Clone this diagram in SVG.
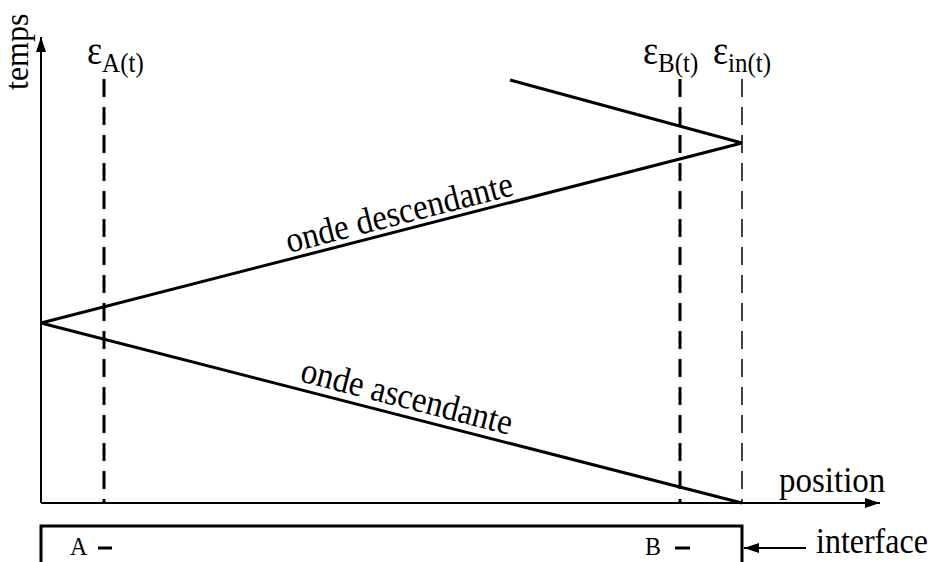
<svg xmlns="http://www.w3.org/2000/svg" width="936" height="562" viewBox="0 0 936 562">
<style>
text{font-family:"Liberation Serif","Times New Roman",serif;fill:#000}
.lbl{font-size:33px}
.eps{font-size:36px}
.sub{font-size:25px}
.ln{stroke:#000;fill:none}
</style>
<defs>
<marker id="ah" viewBox="0 0 15 10" refX="15" refY="5" markerWidth="15" markerHeight="10" markerUnits="userSpaceOnUse" orient="auto"><path d="M0,0L15,5L0,10z" fill="#000"/></marker>
</defs>
<rect width="936" height="562" fill="#fff"/>
<g id="axes">
<line class="ln" x1="41" y1="503" x2="41" y2="37" stroke-width="2" marker-end="url(#ah)"/>
<line class="ln" x1="41" y1="503" x2="880" y2="503" stroke-width="2" marker-end="url(#ah)"/>
<text font-size="32" transform="translate(28,90) rotate(-90) scale(1,1.05)">temps</text>
<text class="lbl" transform="translate(779,492) scale(1,1.1)">position</text>
</g>
<g id="dashed">
<line class="ln" x1="104" y1="79" x2="104" y2="503" stroke-width="3" stroke-dasharray="18,10"/>
<line class="ln" x1="680" y1="79" x2="680" y2="503" stroke-width="3" stroke-dasharray="18,10"/>
<line class="ln" x1="742" y1="79" x2="742" y2="503" stroke-width="1.5" stroke-dasharray="18,10"/>
</g>
<g id="labels">
<text transform="translate(87,64) scale(1,1.1)"><tspan class="eps">ε</tspan><tspan class="sub" dy="7">A(t)</tspan></text>
<text transform="translate(643,64) scale(1,1.1)"><tspan class="eps">ε</tspan><tspan class="sub" dy="7">B(t)</tspan></text>
<text transform="translate(713,64) scale(1,1.1)"><tspan class="eps">ε</tspan><tspan class="sub" dy="7">in(t)</tspan></text>
</g>
<g id="connectors">
<line class="ln" x1="41" y1="323" x2="742" y2="143" stroke-width="3"/>
<line class="ln" x1="41" y1="323" x2="742" y2="503" stroke-width="3"/>
<line class="ln" x1="742" y1="143" x2="510" y2="80" stroke-width="3"/>
</g>
<g id="wave-labels">
<text class="lbl" text-anchor="middle" transform="translate(402,224) rotate(-14.4) scale(1,1.1)">onde descendante</text>
<text class="lbl" text-anchor="middle" transform="translate(404,408) rotate(14.4) scale(1,1.1)">onde ascendante</text>
</g>
<g id="interface">
<path class="ln" d="M41,562V526H742V562" stroke-width="3"/>
<text font-size="24" transform="translate(70,555) scale(1,1.05)">A</text>
<line class="ln" x1="98" y1="548" x2="112" y2="548" stroke-width="3"/>
<text font-size="24" transform="translate(645,555) scale(1,1.05)">B</text>
<line class="ln" x1="675" y1="548" x2="690" y2="548" stroke-width="3"/>
<line class="ln" x1="806" y1="548" x2="744" y2="548" stroke-width="2" marker-end="url(#ah)"/>
<text font-size="32" transform="translate(816,553) scale(1,1.1)">interface</text>
</g>
</svg>
